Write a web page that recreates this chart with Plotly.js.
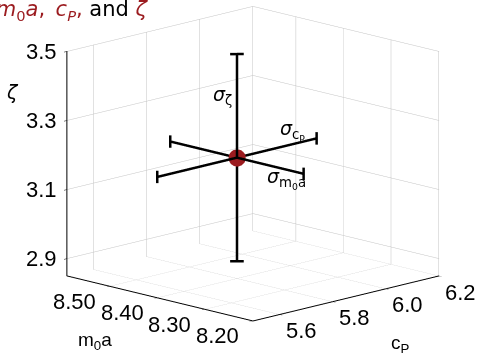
<!DOCTYPE html>
<html><head><meta charset="utf-8">
<script src="https://cdn.plot.ly/plotly-3.0.1.min.js"></script>
<style>html,body{margin:0;padding:0;background:#fff;}#chart{width:480px;height:354px;}</style>
</head><body><div id="chart"></div>
<script>
// data
const m0a = [8.40];
const cP = [5.80];
const zeta = [3.20];
const sigmaM0a = [0.14];
const sigmaCP = [0.30];
const sigmaZeta = [0.30];
const m0aTicks = [8.20, 8.30, 8.40, 8.50];
const m0aTickText = ['8.20', '8.30', '8.40', '8.50'];
const cPTicks = [5.6, 5.8, 6.0, 6.2];
const cPTickText = ['5.6', '5.8', '6.0', '6.2'];
const zetaTicks = [2.9, 3.1, 3.3, 3.5];
const zetaTickText = ['2.9', '3.1', '3.3', '3.5'];

const cPRange = [5.5, 6.201];
const m0aRange = [8.199, 8.59];
const zetaRange = [2.85, 3.501];

const RED = '#9b1b1f';
const BAR = {color: '#000', width: 5};
const TICKFONT = {family: 'Liberation Sans, Arial, sans-serif', size: 22, color: '#000'};
const SIGFONT = {family: 'DejaVu Sans, sans-serif', size: 19, color: '#000'};

const c = {x: cP[0], y: m0a[0], z: zeta[0]};
function seg(x, y, z) {
  return {type: 'scatter3d', mode: 'lines', x: x, y: y, z: z, line: BAR, hoverinfo: 'skip', showlegend: false};
}
// cap half-sizes (style only)
const capZ = 0.018, capX = 0.013, capY = 0.007;
const traces = [
  // sigma bars
  seg([c.x - sigmaCP[0], c.x + sigmaCP[0]], [c.y, c.y], [c.z, c.z]),
  seg([c.x, c.x], [c.y - sigmaM0a[0], c.y + sigmaM0a[0]], [c.z, c.z]),
  seg([c.x, c.x], [c.y, c.y], [c.z - sigmaZeta[0], c.z + sigmaZeta[0]]),
  // caps
  seg([c.x - sigmaCP[0], c.x - sigmaCP[0]], [c.y, c.y], [c.z - capZ, c.z + capZ]),
  seg([c.x + sigmaCP[0], c.x + sigmaCP[0]], [c.y, c.y], [c.z - capZ, c.z + capZ]),
  seg([c.x, c.x], [c.y - sigmaM0a[0], c.y - sigmaM0a[0]], [c.z - capZ, c.z + capZ]),
  seg([c.x, c.x], [c.y + sigmaM0a[0], c.y + sigmaM0a[0]], [c.z - capZ, c.z + capZ]),
  seg([c.x - capX, c.x + capX], [c.y + capY, c.y - capY], [c.z - sigmaZeta[0], c.z - sigmaZeta[0]]),
  seg([c.x - capX, c.x + capX], [c.y + capY, c.y - capY], [c.z + sigmaZeta[0], c.z + sigmaZeta[0]]),
  // estimate
  {type: 'scatter3d', mode: 'markers', x: cP, y: m0a, z: zeta,
   marker: {size: 10, color: RED, line: {width: 0}}, hoverinfo: 'skip', showlegend: false}
];

const axCommon = {
  showgrid: true, gridcolor: '#c4c4c4', gridwidth: 1,
  showline: true, linecolor: '#000', linewidth: 2,
  showbackground: false, zeroline: false, showspikes: false,
  ticks: 'outside', ticklen: 4, tickcolor: '#000',
  showticklabels: false,
  title: {text: ''}
};

const ann = [];
zetaTicks.forEach((v, i) => ann.push({x: cPRange[0], y: m0aRange[1], z: v, text: zetaTickText[i], showarrow: false,
  xanchor: 'right', xshift: -8, font: TICKFONT}));
m0aTicks.forEach((v, i) => ann.push({x: cPRange[0], y: v, z: zetaRange[0], text: m0aTickText[i], showarrow: false,
  xshift: -35, yshift: -15, font: TICKFONT}));
cPTicks.forEach((v, i) => ann.push({x: v, y: m0aRange[0], z: zetaRange[0], text: cPTickText[i], showarrow: false,
  xshift: 22, yshift: -16, font: TICKFONT}));
ann.push({x: c.x, y: c.y, z: c.z + sigmaZeta[0] * 0.6, text: '<i>σ</i><sub>ζ</sub>', showarrow: false, xshift: -14, font: SIGFONT});
ann.push({x: c.x + sigmaCP[0] * 0.7, y: c.y, z: c.z, text: '<i>σ</i><sub>c<sub>P</sub></sub>', showarrow: false, yshift: 14, font: SIGFONT});
ann.push({x: c.x, y: c.y - sigmaM0a[0] * 0.75, z: c.z, text: '<i>σ</i><sub>m<sub>0</sub>a</sub>', showarrow: false, yshift: -9, font: SIGFONT});

const layout = {
  width: 480, height: 354,
  margin: {l: 0, r: 0, t: 0, b: 0},
  paper_bgcolor: '#fff',
  showlegend: false,
  hovermode: false,
  title: {
    text: '<i>m</i><sub>0</sub><i>a</i>,\u2002<i>c</i><sub><i>P</i></sub>, <span style="color:#000">and</span> <i>ζ</i>',
    font: {family: 'DejaVu Sans, sans-serif', size: 21, color: RED},
    xref: 'container', yref: 'container', x: 147/480, xanchor: 'right', y: 1 - 9/354, yanchor: 'middle'
  },
  scene: {
    domain: {x: [0.054, 1.0], y: [0.076, 1.0]},
    aspectmode: 'manual', aspectratio: {x: 1.61, y: 1.61, z: 1.417},
    camera: {
      projection: {type: 'orthographic'},
      eye: {x: -0.932, y: -0.932, z: 0.329},
      center: {x: 0, y: 0, z: 0}, up: {x: 0, y: 0, z: 1}
    },
    xaxis: Object.assign({}, axCommon, {range: cPRange, tickvals: cPTicks}),
    yaxis: Object.assign({}, axCommon, {range: m0aRange, tickvals: m0aTicks}),
    zaxis: Object.assign({}, axCommon, {range: zetaRange, tickvals: zetaTicks}),
    annotations: ann
  },
  annotations: [
    {xref: 'paper', yref: 'paper', x: 12/480, y: 1 - 92/354, xanchor: 'center', yanchor: 'middle', text: '<i>ζ</i>', showarrow: false,
     font: {family: 'DejaVu Sans, sans-serif', size: 19, color: '#000'}},
    {xref: 'paper', yref: 'paper', x: 95/480, y: 1 - 341/354, xanchor: 'center', yanchor: 'middle', text: 'm<sub>0</sub>a', showarrow: false,
     font: {family: 'Liberation Sans, Arial, sans-serif', size: 19, color: '#000'}},
    {xref: 'paper', yref: 'paper', x: 400/480, y: 1 - 344/354, xanchor: 'center', yanchor: 'middle', text: 'c<sub>P</sub>', showarrow: false,
     font: {family: 'Liberation Sans, Arial, sans-serif', size: 19, color: '#000'}}
  ]
};
Plotly.newPlot('chart', traces, layout, {displayModeBar: false});
</script></body></html>
